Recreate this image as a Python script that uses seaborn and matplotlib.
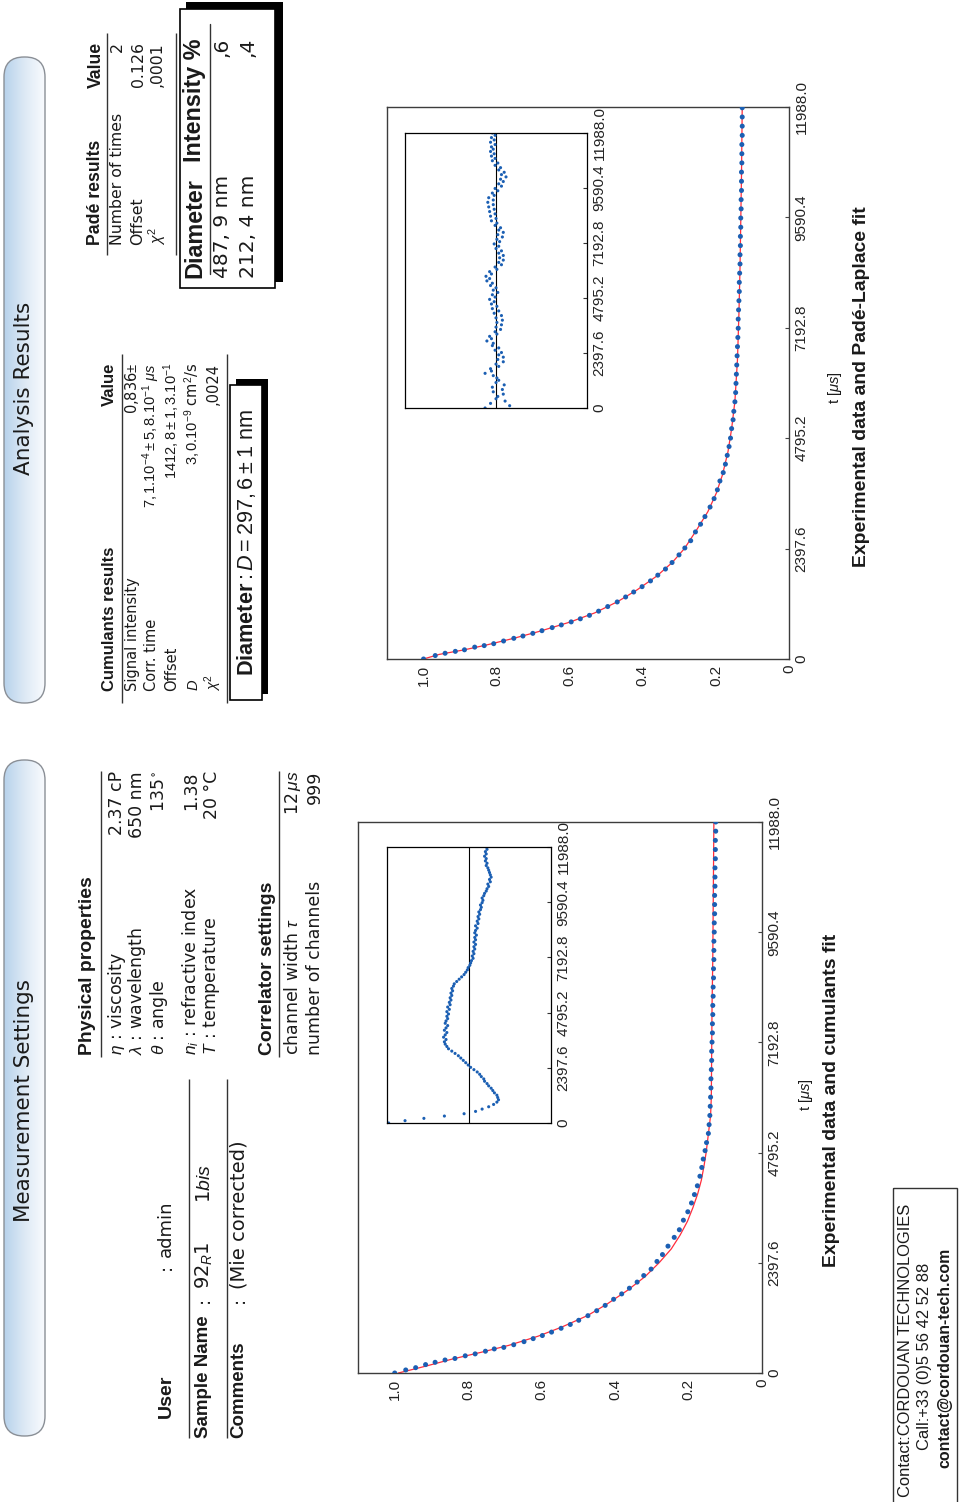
import numpy as np
import matplotlib
matplotlib.use('Agg')
import matplotlib.pyplot as plt
import seaborn as sns
from matplotlib import font_manager as fm
from matplotlib.patches import FancyBboxPatch, Rectangle
from matplotlib.colors import LinearSegmentedColormap

# ---------------- data ----------------
T_TICKS = [0, 2397.6, 4795.2, 7192.8, 9590.4, 11988.0]
T_LABELS = ['0', '2397.6', '4795.2', '7192.8', '9590.4', '11988.0']
V_TICKS = [0, 0.2, 0.4, 0.6, 0.8, 1.0]
V_LABELS = ['0', '0.2', '0.4', '0.6', '0.8', '1.0']

# cumulants panel: measured points
cum_t = [0, 66, 116, 183, 233, 283, 316, 374, 416, 474, 524, 557, 615, 682, 748, 815, 890, 973,
         1056, 1147, 1247, 1355, 1471, 1604, 1721, 1845, 1978, 2120, 2261, 2427, 2577, 2760, 2951,
         3117, 3325, 3508, 3699, 3882, 4073, 4281, 4472, 4655, 4838, 5013, 5212, 5403,
         5603, 5803, 6002, 6202, 6401, 6601, 6800, 7000, 7199, 7399, 7598, 7798, 7997, 8197, 8396,
         8596, 8795, 8995, 9194, 9394, 9593, 9793, 9992, 10192, 10391, 10591, 10790, 10990, 11189,
         11389, 11588, 11788, 11988]
cum_v = [1.000, 0.970, 0.943, 0.916, 0.890, 0.863, 0.836, 0.808, 0.781, 0.753, 0.729, 0.703, 0.676,
         0.648, 0.623, 0.598, 0.573, 0.547, 0.522, 0.499, 0.474, 0.450, 0.427, 0.404, 0.382, 0.361,
         0.340, 0.322, 0.302, 0.286, 0.271, 0.256, 0.239, 0.225, 0.214, 0.202, 0.192, 0.184, 0.176,
         0.169, 0.164, 0.160, 0.155, 0.151, 0.146, 0.144,
         0.142, 0.141, 0.140, 0.139, 0.139, 0.138, 0.137, 0.137, 0.136, 0.135, 0.135, 0.134, 0.134,
         0.133, 0.133, 0.132, 0.132, 0.131, 0.131, 0.131, 0.130, 0.130, 0.129, 0.129, 0.129, 0.128,
         0.128, 0.128, 0.127, 0.127, 0.127, 0.126, 0.126]
# cumulants fit curve
cumfit_t = [0, 150, 300, 450, 600, 800, 1000, 1250, 1500, 1800, 2100, 2400, 2700, 3000, 3300, 3600,
            3900, 4200, 4500, 4800, 5200, 5600, 6000, 7000, 8000, 9000, 10000, 11000, 11988]
cumfit_v = [0.99, 0.915, 0.845, 0.765, 0.69, 0.61, 0.545, 0.475, 0.422, 0.366, 0.318, 0.28, 0.247,
            0.223, 0.203, 0.188, 0.175, 0.165, 0.158, 0.152, 0.146, 0.140, 0.138, 0.137, 0.136,
            0.134, 0.133, 0.132, 0.131]
# cumulants residuals (inset, relative units)
cum_resid = [0.98, 0.78, 0.55, 0.30, 0.06, -0.08, -0.16, -0.24, -0.30, -0.34,
             -0.36, -0.35, -0.34, -0.31, -0.29, -0.27, -0.24, -0.22, -0.19, -0.18,
             -0.15, -0.13, -0.10, -0.06, -0.02, 0.01, 0.04, 0.07, 0.10, 0.13,
             0.17, 0.21, 0.25, 0.27, 0.29, 0.30, 0.28, 0.31, 0.29, 0.27,
             0.30, 0.28, 0.26, 0.29, 0.28, 0.26, 0.27, 0.25, 0.27, 0.24,
             0.26, 0.23, 0.24, 0.22, 0.23, 0.21, 0.22, 0.20, 0.21, 0.19,
             0.18, 0.15, 0.12, 0.09, 0.06, 0.04, 0.02, 0.01, -0.01, -0.02,
             -0.03, -0.05, -0.04, -0.06, -0.05, -0.07, -0.06, -0.08, -0.06, -0.08,
             -0.07, -0.09, -0.07, -0.08, -0.10, -0.08, -0.11, -0.10, -0.12, -0.11,
             -0.13, -0.12, -0.14, -0.15, -0.14, -0.16, -0.17, -0.16, -0.18, -0.19,
             -0.21, -0.22, -0.24, -0.23, -0.26, -0.25, -0.27, -0.26, -0.25, -0.24,
             -0.23, -0.21, -0.22, -0.20, -0.21, -0.19, -0.21, -0.20, -0.22, -0.21]

# Pade-Laplace panel: measured points
pade_t = [0, 75, 125, 166, 200, 258, 291, 333, 391, 449, 499, 557, 615, 682, 740, 806, 873, 948,
          1039, 1139, 1239, 1347, 1455, 1571, 1696, 1821, 1954, 2095, 2261, 2411, 2569, 2760, 2927,
          3093, 3300, 3483, 3674, 3866, 4048, 4231, 4423, 4614, 4797, 5004, 5196, 5379, 5586,
          5786, 5986, 6185, 6385, 6584, 6784, 6983, 7183, 7382, 7582, 7781, 7981, 8180, 8380, 8579,
          8779, 8978, 9178, 9377, 9577, 9776, 9976, 10175, 10375, 10574, 10774, 10973, 11173, 11372,
          11572, 11771, 11971]
pade_v = [1.0, 0.968, 0.941, 0.913, 0.888, 0.860, 0.834, 0.808, 0.781, 0.753, 0.728, 0.701, 0.676,
          0.648, 0.623, 0.596, 0.571, 0.546, 0.521, 0.496, 0.470, 0.447, 0.425, 0.402, 0.379, 0.359,
          0.338, 0.320, 0.301, 0.285, 0.269, 0.256, 0.242, 0.230, 0.216, 0.205, 0.196, 0.189, 0.180,
          0.174, 0.169, 0.164, 0.160, 0.157, 0.153, 0.151, 0.148,
          0.146, 0.145, 0.144, 0.143, 0.142, 0.141, 0.140, 0.139, 0.139, 0.138, 0.137, 0.136, 0.136,
          0.135, 0.134, 0.134, 0.133, 0.133, 0.132, 0.132, 0.131, 0.131, 0.130, 0.130, 0.130, 0.129,
          0.129, 0.129, 0.128, 0.128, 0.128, 0.128]
padefit_t = [0, 100, 200, 300, 450, 600, 800, 1000, 1250, 1500, 1800, 2100, 2400, 2800, 3200, 3600,
             4000, 4500, 5000, 5600, 6500, 7500, 8500, 9500, 10500, 11988]
padefit_v = [1.0, 0.957, 0.888, 0.83, 0.753, 0.683, 0.600, 0.532, 0.468, 0.416, 0.362, 0.319, 0.286,
             0.253, 0.222, 0.199, 0.182, 0.167, 0.157, 0.148, 0.141, 0.137, 0.134, 0.132, 0.130, 0.128]
pade_resid = [0.12, -0.15, 0.06, -0.10, 0.00, -0.02, -0.08, 0.03, -0.07, 0.04,
              -0.09, 0.00, -0.03, -0.01, 0.03, 0.12, 0.05, 0.06, -0.03, 0.00,
              -0.08, -0.02, -0.08, -0.03, -0.06, 0.01, -0.03, 0.04, 0.03, 0.10,
              0.05, 0.07, -0.01, 0.01, -0.05, 0.00, -0.06, -0.01, -0.07, 0.00,
              -0.06, 0.02, -0.03, 0.04, -0.01, 0.05, 0.02, 0.07, 0.01, 0.04,
              -0.02, 0.03, 0.00, 0.06, 0.04, 0.10, 0.07, 0.11, 0.05, 0.07,
              -0.01, 0.01, -0.06, -0.03, -0.08, -0.04, -0.08, -0.03, -0.06, 0.00,
              -0.03, 0.02, -0.04, -0.01, -0.07, -0.02, -0.08, -0.03, -0.05, 0.01,
              -0.01, 0.05, 0.00, 0.06, 0.01, 0.07, 0.02, 0.08, 0.03, 0.09,
              0.03, 0.08, 0.02, 0.04, -0.02, 0.01, -0.06, -0.03, -0.08, -0.05,
              -0.11, -0.06, -0.09, -0.03, -0.05, 0.01, -0.02, 0.04, 0.01, 0.05,
              0.02, 0.06, 0.03, 0.05, 0.01, 0.06, 0.02, 0.05, 0.01, 0.04]

# ---------------- style ----------------
W, H = 976, 1502
sns.set_theme(style='white')


def has_font(name):
    try:
        fm.findfont(fm.FontProperties(family=name), fallback_to_default=False)
        return True
    except Exception:
        return False


NARROW = has_font('Liberation Sans Narrow')
FONT = 'Liberation Sans Narrow' if NARROW else 'Liberation Sans'
SC = 1.0 if NARROW else 0.82
FAM = {'narrow': [FONT, 'DejaVu Sans'],
       'arial': ['Liberation Sans', 'DejaVu Sans'],
       'dv': ['DejaVu Sans']}
plt.rcParams['font.family'] = [FONT, 'DejaVu Sans']
plt.rcParams['mathtext.fontset'] = 'custom'
plt.rcParams['mathtext.rm'] = FONT
plt.rcParams['mathtext.it'] = FONT + ':italic'
plt.rcParams['mathtext.bf'] = FONT + ':bold'
plt.rcParams['mathtext.sf'] = FONT
plt.rcParams['mathtext.fallback'] = 'stixsans'
TICKFONT = 'Liberation Sans'

BLUE = '#1b5fb3'
RED = '#ff2d3c'
INK = '#1a1a1a'

fig = plt.figure(figsize=(W / 100, H / 100), dpi=100)
fig.patch.set_facecolor('white')
bg = fig.add_axes([0, 0, 1, 1], zorder=0)
bg.set_xlim(0, W)
bg.set_ylim(H, 0)
bg.axis('off')


def T(x, y, s, size=13, weight='normal', va='bottom', ha='center', fam='narrow', **kw):
    sz = size * SC if fam == 'narrow' else size
    bg.text(x, y, s, rotation=90, fontsize=sz, fontweight=weight, ha=ha, va=va,
            color=INK, family=FAM[fam], **kw)


def rule(x, y0, y1, lw=1.0, color='#333333'):
    bg.plot([x, x], [y0, y1], color=color, lw=lw, solid_capstyle='butt')


cmap = LinearSegmentedColormap.from_list('ban', ['#b7d2eb', '#dde9f5', '#f9fbfe'])


def banner(x0, y0, x1, y1):
    p = FancyBboxPatch((x0, y0), x1 - x0, y1 - y0,
                       boxstyle='round,pad=0,rounding_size=20',
                       facecolor='none', edgecolor='#8a8f96', lw=1.0, zorder=3)
    bg.add_patch(p)
    grad = np.linspace(0, 1, 128)[None, :]
    im = bg.imshow(grad, extent=[x0, x1, y1, y0], cmap=cmap, aspect='auto', zorder=2)
    im.set_clip_path(p)


banner(4, 760, 45, 1436)
banner(4, 57, 45, 703)
bg.set_xlim(0, W)
bg.set_ylim(H, 0)

# ----- Measurement settings -----
T(24, 1100, 'Measurement Settings', 15.5, va='center', fam='dv')
T(166, 1418, 'User', 14, 'bold', fam='arial')
T(166, 1270, ':', 13, fam='dv')
T(166, 1257, 'admin', 13, fam='dv')
rule(189, 1079, 1438)
T(204, 1438, 'Sample Name', 13.5, 'bold', fam='arial')
T(204, 1303, ':', 13, fam='dv')
T(204, 1289, r'92$_R$1', 14, fam='dv')
T(204, 1203, r'1$bis$', 14, fam='dv')
rule(227, 1079, 1438)
T(239, 1438, 'Comments', 13.5, 'bold', fam='arial')
T(239, 1303, ':', 13, fam='dv')
T(239, 1289, '(Mie corrected)', 14, fam='dv')

T(87, 1055, 'Physical properties', 17, 'bold')
rule(101, 771, 1057)
phys_rows = [(117, r'$\eta$ : viscosity', '2.37 cP'),
             (137, r'$\lambda$ : wavelength', '650 nm'),
             (159, r'$\theta$ : angle', r'135$\,^{\circ}$'),
             (191, r'$n_i$ : refractive index', '1.38'),
             (212, r'$T$ : temperature', '20 °C')]
for x, lab, val in phys_rows:
    T(x, 1055, lab, 12.5, fam='dv')
    T(x, 771, val, 12.5, va='top', fam='dv')
T(267, 1055, 'Correlator settings', 17, 'bold')
rule(279, 771, 1057)
T(293, 1055, r'channel width $\tau$', 12.5, fam='dv')
T(293, 771, r'12$\,\mu s$', 12.5, va='top', fam='dv')
T(315, 1055, 'number of channels', 12.5, fam='dv')
T(315, 771, '999', 12.5, va='top', fam='dv')

# ----- Analysis results -----
T(24, 388, 'Analysis Results', 15.5, va='center', fam='dv')
T(109, 691, 'Cumulants results', 12, 'bold', fam='arial')
T(109, 363, 'Value', 12, 'bold', va='top', fam='arial')
rule(122, 354, 703)
cum_rows = [(132, 'Signal intensity', r'0,836$\pm$'),
            (151, 'Corr. time', r'$7,1.10^{-4}\pm5,8.10^{-1}\ \mu s$'),
            (172, 'Offset', r'$1412,8\pm1,3.10^{-1}$'),
            (193, r'$D$', r'$3,0.10^{-9}$ cm$^2$/s'),
            (213, r'$\chi^2$', ',0024')]
for x, lab, val in cum_rows:
    T(x, 691, lab, 10.5, fam='dv')
    T(x, 363, val, 10.5, va='top', fam='dv')
rule(227, 354, 703)
bg.add_patch(Rectangle((236, 379), 32, 315, facecolor='black', edgecolor='none', zorder=2))
bg.add_patch(Rectangle((230, 385), 32, 315, facecolor='white', edgecolor='black', lw=1.2, zorder=3))
T(246, 543, r'$\mathbf{Diameter}: D = 297,6 \pm 1$ nm', 19, va='center', zorder=4)

T(96, 245, 'Padé results', 15.5, 'bold')
T(96, 42, 'Value', 15.5, 'bold', va='top')
rule(107, 33, 255)
pade_rows = [(117, 'Number of times', '2'), (138, 'Offset', '0.126'), (157, r'$\chi^2$', ',0001')]
for x, lab, val in pade_rows:
    T(x, 245, lab, 11.3, fam='dv')
    T(x, 42, val, 11.3, va='top', fam='dv')
rule(176, 33, 255)
bg.add_patch(Rectangle((186, 2), 97, 280, facecolor='black', edgecolor='none', zorder=2))
bg.add_patch(Rectangle((180, 9), 95, 279, facecolor='white', edgecolor='black', lw=1.2, zorder=3))
T(195, 278, 'Diameter', 20.5, 'bold', zorder=4)
T(195, 38, 'Intensity %', 20.5, 'bold', va='top', zorder=4)
bg.plot([210, 210], [24, 274], color='#333333', lw=1.0, zorder=4)
T(222, 278, '487, 9 nm', 14.5, zorder=4, fam='dv')
T(222, 38, ',6', 14.5, va='top', zorder=4, fam='dv')
T(248, 278, '212, 4 nm', 14.5, zorder=4, fam='dv')
T(248, 38, ',4', 14.5, va='top', zorder=4, fam='dv')

# ----- plot captions -----
T(806, 1095, r't [$\mu s$]', 13, va='center')
T(832, 1100, 'Experimental data and cumulants fit', 17, 'bold', va='center')
T(835, 388, r't [$\mu s$]', 13, va='center')
T(862, 387, 'Experimental data and Padé-Laplace fit', 17, 'bold', va='center')

# ----- contact box -----
bg.add_patch(Rectangle((893, 1188), 64, 330, facecolor='none', edgecolor='#333333', lw=1.0))
T(905, 1350, 'Contact:CORDOUAN TECHNOLOGIES', 14.5, va='center')
T(925, 1356, 'Call:+33 (0)5 56 42 52 88', 14.5, va='center')
T(945, 1358, 'contact@cordouan-tech.com', 14, 'bold', va='center')


# ---------------- plots ----------------
def fpos(x0, y0, x1, y1):
    return [x0 / W, 1 - y1 / H, (x1 - x0) / W, (y1 - y0) / H]


def style_t_axis(ax, size):
    ax.set_ylim(0, 11988)
    ax.set_yticks(T_TICKS)
    ax.set_yticklabels(T_LABELS, rotation=90, va='center', fontsize=size,
                       fontfamily=TICKFONT, color='#222222')
    ax.yaxis.tick_right()
    ax.set_ylabel('')


def main_panel(box, data_t, data_v, fit_t, fit_v, inset_box, resid):
    ax = fig.add_axes(fpos(*box), zorder=2)
    ax.set_facecolor('white')
    sns.lineplot(x=fit_v, y=fit_t, ax=ax, color=RED, lw=0.9, orient='y', sort=False,
                 estimator=None, zorder=2)
    sns.scatterplot(x=data_v, y=data_t, ax=ax, color=BLUE, s=13, edgecolor='none',
                    linewidth=0, zorder=3)
    ax.set_xlim(1.1, 0.0)
    ax.set_xticks(V_TICKS)
    ax.set_xticklabels(V_LABELS, rotation=90, fontsize=11, fontfamily=TICKFONT,
                       color='#222222')
    ax.set_xlabel('')
    style_t_axis(ax, 11)
    ax.tick_params(direction='in', length=3, width=0.8, color='#444444', pad=4)
    for sp in ax.spines.values():
        sp.set_color('#3c3c3c')
        sp.set_linewidth(1.0)

    axin = fig.add_axes(fpos(*inset_box), zorder=3)
    axin.set_facecolor('white')
    inset_t = np.linspace(0, 11988, len(resid))
    axin.axvline(0, color='black', lw=0.8, zorder=1)
    sns.scatterplot(x=resid, y=inset_t, ax=axin, color=BLUE, s=5, edgecolor='none',
                    linewidth=0, zorder=2)
    axin.set_xlim(1, -1)
    axin.set_xticks([])
    axin.set_xlabel('')
    style_t_axis(axin, 11)
    axin.tick_params(direction='in', length=3, width=0.8, color='#333333', pad=4)
    for sp in axin.spines.values():
        sp.set_color('black')
        sp.set_linewidth(0.9)
    return ax


main_panel((358, 822, 762, 1373), cum_t, cum_v, cumfit_t, cumfit_v,
           (387, 847, 551, 1123), cum_resid)
main_panel((387, 107, 789, 659), pade_t, pade_v, padefit_t, padefit_v,
           (405, 133, 587, 408), pade_resid)

fig.savefig('out.png', dpi=100, facecolor='white')
